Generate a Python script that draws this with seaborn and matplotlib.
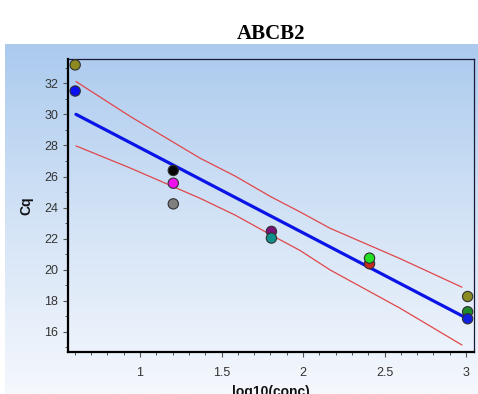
import numpy as np
import pandas as pd
import seaborn as sns
import matplotlib
matplotlib.use("Agg")
import matplotlib.pyplot as plt
from matplotlib.colors import LinearSegmentedColormap
from matplotlib.ticker import MultipleLocator

# ---------------- data ----------------
log_conc = [0.602, 0.602, 1.204, 1.204, 1.204, 1.806, 1.806,
            2.408, 2.408, 3.010, 3.010, 3.010]
cq = [33.18, 31.50, 26.39, 25.57, 24.24, 22.47, 22.04,
      20.39, 20.75, 18.28, 17.30, 16.85]
well_colors = ["#8E8A22", "#0A10F0", "#050505", "#F010F0", "#808080",
               "#7A127A", "#10908A", "#C82A22", "#22E022",
               "#8A8A22", "#1E8A2A", "#1020E0"]

fit_x = [0.607, 3.010]
fit_y = [30.00, 16.85]

band_x = [0.607, 0.939, 1.368, 1.583, 1.804, 1.982, 2.166, 2.595, 2.975]
band_upper = [32.11, 29.87, 27.18, 26.03, 24.69, 23.72, 22.67, 20.72, 18.88]
band_lower = [27.97, 26.55, 24.60, 23.52, 22.24, 21.24, 19.99, 17.53, 15.16]

x_ticks = [1, 1.5, 2, 2.5, 3]
x_tick_labels = ["1", "1.5", "2", "2.5", "3"]
y_ticks = [16, 18, 20, 22, 24, 26, 28, 30, 32]
y_tick_labels = ["16", "18", "20", "22", "24", "26", "28", "30", "32"]

title = "ABCB2"
x_label = "log10(conc)"
y_label = "Cq"

# ---------------- figure ----------------
sns.set_theme(style="ticks")
plt.rcParams["font.family"] = ["Liberation Sans", "DejaVu Sans"]

W, H = 478, 394
fig = plt.figure(figsize=(W / 100, H / 100), dpi=100)
fig.patch.set_facecolor("white")

# gradient panel
bg = fig.add_axes([5 / W, 0, (W - 5) / W, (H - 44) / H], zorder=-10)
cmap = LinearSegmentedColormap.from_list("bgc", ["#ABCAEE", "#D3E3F6", "#F5F8FD"])
grad = np.linspace(0, 1, 256).reshape(-1, 1)
bg.imshow(grad, aspect="auto", cmap=cmap, extent=[0, 1, 0, 1], origin="upper")
bg.set_axis_off()

ax = fig.add_axes([68 / W, (H - 352) / H, (474 - 68) / W, (352 - 59) / H])
ax.set_facecolor("none")

df_pts = pd.DataFrame({"x": log_conc, "y": cq, "well": list(range(len(cq)))})
df_fit = pd.DataFrame({"x": fit_x, "y": fit_y})
df_up = pd.DataFrame({"x": band_x, "y": band_upper})
df_lo = pd.DataFrame({"x": band_x, "y": band_lower})

sns.lineplot(data=df_up, x="x", y="y", ax=ax, color="#E0474A", lw=0.9,
             estimator=None, sort=False, zorder=2)
sns.lineplot(data=df_lo, x="x", y="y", ax=ax, color="#E0474A", lw=0.9,
             estimator=None, sort=False, zorder=2)
sns.lineplot(data=df_fit, x="x", y="y", ax=ax, color="#0A14E6", lw=2.3,
             estimator=None, sort=False, zorder=3)
sns.scatterplot(data=df_pts, x="x", y="y", hue="well", palette=well_colors,
                ax=ax, s=55, edgecolor="#303030", linewidth=0.8,
                legend=False, zorder=4, clip_on=False)

ax.set_xlim(0.558, 3.049)
ax.set_ylim(14.71, 33.56)
ax.set_xticks(x_ticks)
ax.set_xticklabels(x_tick_labels)
ax.set_yticks(y_ticks)
ax.set_yticklabels(y_tick_labels)
ax.xaxis.set_minor_locator(MultipleLocator(0.1))
ax.yaxis.set_minor_locator(MultipleLocator(1))

ax.tick_params(axis="both", which="major", labelsize=9, labelcolor="#333333",
               color="#555555", length=3.5, width=0.8, direction="out")
ax.tick_params(axis="both", which="minor", color="#555555", length=2,
               width=0.7, direction="out")
ax.tick_params(axis="x", which="major", pad=7)
ax.tick_params(axis="y", which="major", pad=3.5)

for side in ["left", "bottom"]:
    ax.spines[side].set_linewidth(1.6)
    ax.spines[side].set_color("#000000")
for side in ["top", "right"]:
    ax.spines[side].set_visible(True)
    ax.spines[side].set_linewidth(0.9)
    ax.spines[side].set_color("#1A1A3A")

ax.set_xlabel(x_label, fontsize=10, fontweight="bold", color="#111111")
ax.set_ylabel(y_label, fontsize=10, fontweight="bold", color="#111111")
ax.xaxis.set_label_coords(0.5, -0.112)
ax.yaxis.set_label_coords(-0.086, 0.5)

fig.text(271 / W, 1 - 39 / H, title, ha="center", va="baseline",
         fontsize=15, fontweight="bold", family=["Liberation Serif", "DejaVu Serif"],
         color="#000000")

fig.savefig("out.png", dpi=100)
